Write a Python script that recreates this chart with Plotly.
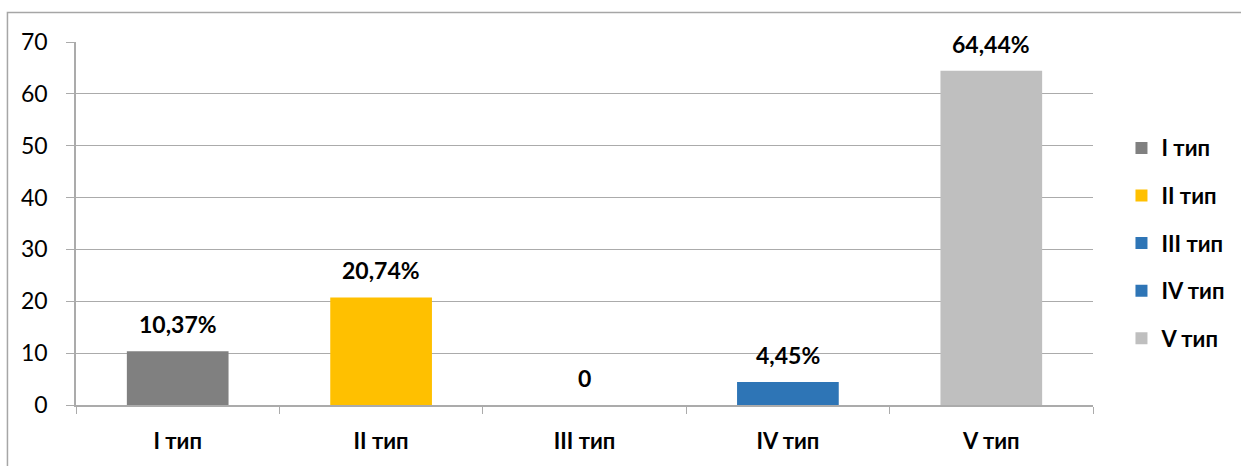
import plotly.graph_objects as go

# Distribution by type, percent
categories = ["I тип", "II тип", "III тип", "IV тип", "V тип"]
values = [10.37, 20.74, 0, 4.45, 64.44]
colors = ["#808080", "#FFC000", "#2E75B6", "#2E75B6", "#BFBFBF"]
y_ticks = [0, 10, 20, 30, 40, 50, 60, 70]

FONT = "Lato"
GRID = "#ABABAB"


def fmt(v):
    return "0" if v == 0 else f"{v:.2f}%".replace(".", ",")


fig = go.Figure()
for cat, val, col in zip(categories, values, colors):
    fig.add_trace(go.Bar(
        x=[cat], y=[val], name=cat, marker=dict(color=col, line=dict(width=0)),
        width=0.5, legendgroup=cat, hoverinfo="skip",
    ))
    fig.add_annotation(
        x=cat, y=val, text=f"<b>{fmt(val)}</b>", showarrow=False,
        yanchor="bottom", yshift=11,
        font=dict(family=FONT, size=23, color="#000000"),
    )

# outer frame of the chart area
fig.add_shape(type="rect", xref="paper", yref="paper",
              x0=-0.0674, x1=1.16, y0=-0.19, y1=1.0813,
              line=dict(color="#A6A6A6", width=1.5), layer="below")

fig.update_layout(
    width=1241, height=466,
    margin=dict(l=76, r=148, t=42, b=61),
    paper_bgcolor="white", plot_bgcolor="white",
    barmode="overlay",
    showlegend=True,
    legend=dict(
        x=1.028, y=0.446, xanchor="left", yanchor="middle",
        font=dict(family=FONT, size=22, color="#000000", weight="bold"),
        tracegroupgap=16, itemwidth=30,
    ),
    xaxis=dict(
        categoryorder="array", categoryarray=categories,
        showline=True, linecolor=GRID, linewidth=1.5,
        ticks="outside", tickson="boundaries", ticklen=7, tickcolor=GRID,
        tickfont=dict(family=FONT, size=22, color="#000000", weight="bold"),
        ticklabelstandoff=16,
        showgrid=False, fixedrange=True,
    ),
    yaxis=dict(
        range=[0, 70], tickvals=y_ticks,
        showline=True, linecolor=GRID, linewidth=1.5,
        ticks="outside", ticklen=8, tickcolor=GRID,
        showgrid=True, gridcolor=GRID, gridwidth=1.2,
        zeroline=False,
        tickfont=dict(family=FONT, size=23, color="#000000"),
        ticklabelstandoff=14, fixedrange=True,
    ),
)

fig.write_html("out.html")
